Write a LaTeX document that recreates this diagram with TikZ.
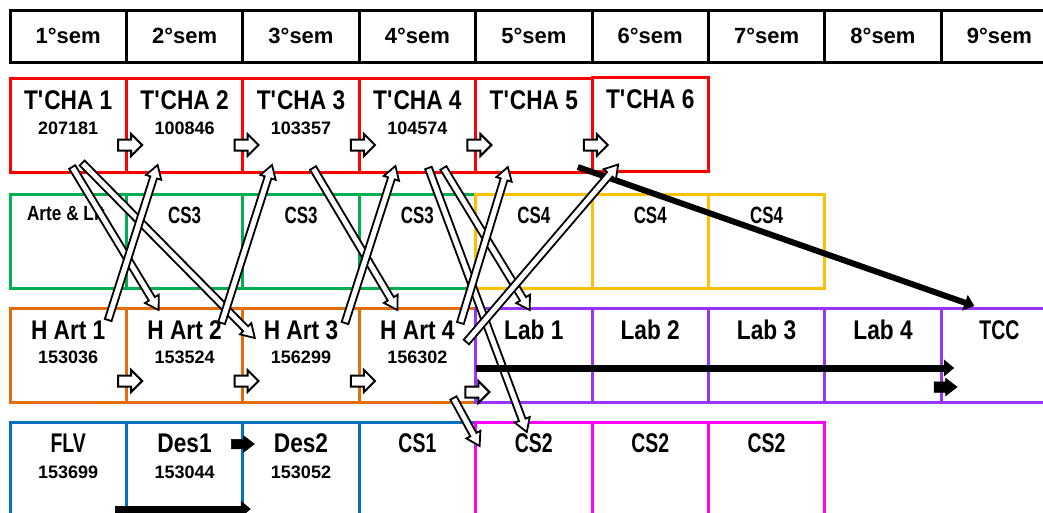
\documentclass[tikz,border=0pt]{standalone}
\usepackage{fontspec}
\setmainfont{Liberation Sans}
\newfontfamily\tightfont{Liberation Sans}[FakeStretch=0.84]
\newfontfamily\narrowfont{Liberation Sans}[FakeStretch=0.72]
\usepackage{tikz}
\usetikzlibrary{calc,positioning,arrows.meta,shapes.arrows}
\definecolor{tchared}{RGB}{255,0,0}
\definecolor{csgreen}{RGB}{0,176,80}
\definecolor{csyellow}{RGB}{255,192,0}
\definecolor{hartorange}{RGB}{228,108,10}
\definecolor{labpurple}{RGB}{153,51,255}
\definecolor{desblue}{RGB}{0,112,192}
\definecolor{csmagenta}{RGB}{255,0,255}

\tikzset{
  cell/.style={draw, line width=3pt, minimum width=116.4pt, minimum height=94pt, inner sep=0pt, outer sep=0pt},
  semcell/.style={cell, draw=black, minimum height=52pt, font=\bfseries\fontsize{22}{26}\selectfont},
  title/.style={inner sep=0pt, font=\tightfont\bfseries\fontsize{27}{30}\selectfont},
  arte/.style={inner sep=0pt, font=\tightfont\bfseries\fontsize{20.5}{24}\selectfont},
  short/.style={inner sep=0pt, font=\narrowfont\bfseries\fontsize{27}{30}\selectfont},
  cstext/.style={inner sep=0pt, font=\narrowfont\bfseries\fontsize{23.5}{27}\selectfont},
  code/.style={inner sep=0pt, font=\bfseries\fontsize{18}{20}\selectfont},
  harr/.style={single arrow, draw=black, fill=white, line width=2pt, minimum height=24pt, inner xsep=0pt, inner ysep=4.5pt, single arrow head extend=5.5pt, outer sep=0pt},
  barr/.style={single arrow, draw=black, fill=black, line width=0.5pt, minimum height=23pt, inner xsep=0pt, inner ysep=4.5pt, single arrow head extend=3.5pt, single arrow tip angle=75, outer sep=0pt},
  hollow/.style={draw=black, fill=white, line width=1.8pt, line join=miter},
  thickarr/.style={line width=7pt, -{Triangle[length=10pt,width=16pt]}}
}

% block arrow with white body, from #1 to #2
\newcommand{\hollowarrow}[2]{%
  \coordinate (arrA) at (#1);
  \coordinate (arrB) at (#2);
  \coordinate (arrC) at ($(arrB)!13pt!(arrA)$);
  \filldraw[hollow] ($(arrA)!3.5pt!90:(arrB)$) -- ($(arrC)!3.5pt!90:(arrB)$) -- ($(arrC)!8pt!90:(arrB)$)
    -- (arrB) -- ($(arrC)!8pt!-90:(arrB)$) -- ($(arrC)!3.5pt!-90:(arrB)$) -- ($(arrA)!3.5pt!-90:(arrB)$) -- cycle;}

\begin{document}
\begin{tikzpicture}[x=1pt, y=-1pt]
  \useasboundingbox (0,0) rectangle (1043,512);
  \clip (0,0) rectangle (1043,512);

  % Semesters
  \foreach \i in {1,...,9}
    \node[semcell] (sem\i) at ({68.2+116.4*(\i-1)},36) {\i°sem};

  % TCHA row
  \foreach \i/\cod in {1/207181,2/100846,3/103357,4/104574}{
    \node[cell, draw=tchared] (t\i) at ({68.2+116.4*(\i-1)},125) {};
    \node[title] (tn\i) at ([yshift=-22pt]t\i.north) {T\textquotesingle CHA \i};
    \node[code] (tc\i) at ([yshift=-50pt]t\i.north) {\cod};
  }
  \node[cell, draw=tchared] (t5) at (533.8,125) {};
  \node[title] (tn5) at ([yshift=-22pt]t5.north) {T\textquotesingle CHA 5};
  \node[cell, draw=tchared] (t6) at (650.2,124.5) {};
  \node[title] (tn6) at ([yshift=-22pt]t6.north) {T\textquotesingle CHA 6};

  % CS3 / CS4 row
  \node[cell, draw=csgreen] (g1) at (68.2,241) {};
  \node[arte] (gn1) at ([yshift=-19pt]g1.north) {Arte \& Lit.};
  \foreach \i in {2,3,4}{
    \node[cell, draw=csgreen] (g\i) at ({68.2+116.4*(\i-1)},241) {};
    \node[cstext] (gn\i) at ([yshift=-21pt]g\i.north) {CS3};
  }
  \foreach \i in {5,6,7}{
    \node[cell, draw=csyellow] (y\i) at ({68.2+116.4*(\i-1)},241) {};
    \node[cstext] (yn\i) at ([yshift=-21pt]y\i.north) {CS4};
  }

  % H Art row
  \foreach \i/\cod in {1/153036,2/153524,3/156299,4/156302}{
    \node[cell, draw=hartorange] (h\i) at ({68.2+116.4*(\i-1)},355) {};
    \node[title] (hn\i) at ([yshift=-22pt]h\i.north) {H Art \i};
    \node[code] (hc\i) at ([yshift=-49pt]h\i.north) {\cod};
  }

  % Lab row
  \foreach \i in {1,...,4}{
    \node[cell, draw=labpurple] (lab\i) at ({68.2+116.4*(\i+3)},355) {};
    \node[title] (labn\i) at ([yshift=-22pt]lab\i.north) {Lab \i};
  }
  \node[cell, draw=labpurple] (tcc) at (999.4,355) {};
  \node[short] (tccn) at ([yshift=-22pt]tcc.north) {TCC};

  % FLV / Des row
  \node[cell, draw=desblue] (b1) at (68.2,469) {};
  \node[short] (bn1) at ([yshift=-21pt]b1.north) {FLV};
  \node[code] (bc1) at ([yshift=-50pt]b1.north) {153699};
  \node[cell, draw=desblue] (b2) at (184.6,469) {};
  \node[title] (bn2) at ([yshift=-21pt]b2.north) {Des1};
  \node[code] (bc2) at ([yshift=-50pt]b2.north) {153044};
  \node[cell, draw=desblue] (b3) at (301,469) {};
  \node[title] (bn3) at ([yshift=-21pt]b3.north) {Des2};
  \node[code] (bc3) at ([yshift=-50pt]b3.north) {153052};
  \node[cell, draw=desblue] (b4) at (417.4,469) {};
  \node[short] (bn4) at ([yshift=-21pt]b4.north) {CS1};

  % CS2 row
  \foreach \i in {5,6,7}{
    \node[cell, draw=csmagenta] (m\i) at ({68.2+116.4*(\i-1)},469) {};
    \node[short] (mn\i) at ([yshift=-21pt]m\i.north) {CS2};
  }

  % small block arrows
  \foreach \i in {1,...,5}
    \node[harr] (ta\i) at ([xshift=1pt,yshift=-20pt]t\i.east) {};
  \foreach \i in {1,2,3}
    \node[harr] (ha\i) at ([xshift=1pt,yshift=-26pt]h\i.east) {};
  \node[harr] (ha4) at ([xshift=-1pt,yshift=-37pt]h4.east) {};
  \node[barr] (bk1) at ([xshift=-3pt,yshift=25pt]b2.east) {};
  \node[barr, inner ysep=5pt, single arrow head extend=3.5pt] (bk2) at ([xshift=1pt,yshift=-32pt]lab4.east) {};

  % prerequisite arrows
  \hollowarrow{[xshift=4pt,yshift=5pt]t1.south}{[xshift=-26pt,yshift=-2pt]h2.north}
  \hollowarrow{[xshift=14pt,yshift=9pt]t1.south}{[xshift=12pt,yshift=-30pt]h3.north west}
  \hollowarrow{[xshift=40pt,yshift=-12pt]h1.north}{[xshift=-27pt,yshift=7pt]t2.south}
  \hollowarrow{[xshift=37pt,yshift=-15pt]h2.north}{[xshift=-29pt,yshift=7pt]t3.south}
  \hollowarrow{[xshift=12pt,yshift=4pt]t3.south}{[xshift=-20pt,yshift=-2pt]h4.north}
  \hollowarrow{[xshift=44pt,yshift=-15pt]h3.north}{[xshift=-22pt,yshift=6pt]t4.south}
  \hollowarrow{[xshift=11pt,yshift=4pt]t4.south}{[xshift=-7pt,yshift=-10pt]m5.north}
  \hollowarrow{[xshift=26pt,yshift=4pt]t4.south}{[xshift=-4pt,yshift=-2pt]lab1.north}
  \hollowarrow{[xshift=43pt,yshift=-15pt]h4.north}{[xshift=-26pt,yshift=5pt]t5.south}
  \hollowarrow{[xshift=36pt,yshift=4pt]h4.south}{[xshift=4pt,yshift=-24pt]m5.north west}

  % thick arrows
  \draw[thickarr] ([yshift=-13pt]lab1.west) -- ([xshift=13pt,yshift=-13pt]tcc.west);
  \draw[thickarr] ([xshift=-11pt,yshift=7pt]b2.south west) -- ([xshift=8pt,yshift=7pt]b3.south west);
  \draw[thickarr, line width=6pt] ([xshift=44pt,yshift=5pt]t5.south) -- ([xshift=-25pt,yshift=2pt]tcc.north);

  \hollowarrow{[xshift=49pt,yshift=-34pt]h4.north}{[xshift=-32pt,yshift=7pt]t6.south}
\end{tikzpicture}
\end{document}
